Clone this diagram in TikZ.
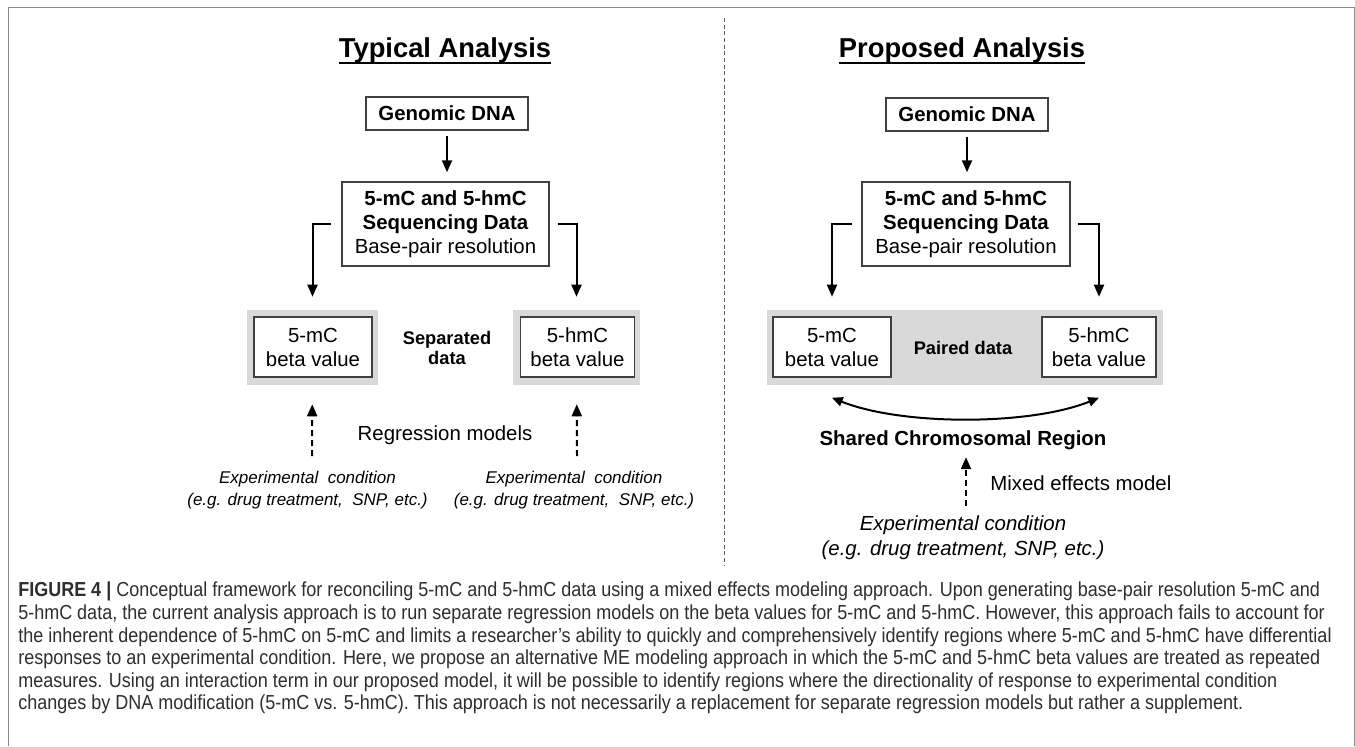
\documentclass[tikz,border=0pt]{standalone}
\usepackage{fontspec}
\setmainfont{Liberation Sans}
\newfontfamily\capfont[FakeStretch=0.888]{Liberation Sans}
\usetikzlibrary{arrows.meta,calc}
\newcommand\dgmain{\fontsize{15.3}{18}\selectfont}
\newcommand\dgsmall{\fontsize{13.7}{15}\selectfont\bfseries}
\newcommand\dgital{\fontsize{12.75}{16.5}\selectfont\itshape}
\newcommand\dgitalbig{\fontsize{15.3}{18.75}\selectfont\itshape}
\newcommand\dgtitle{\fontsize{20.5}{24}\selectfont\bfseries}
\tikzset{
  box/.style={draw=black!75, line width=1.1pt, fill=white, inner sep=0pt, align=center, font=\dgmain},
  graybox/.style={fill=black!15, draw=none, inner sep=0pt},
  lbl/.style={inner sep=0pt, align=center},
  arr/.style={line width=1.5pt, -{Triangle[length=9pt,width=7.5pt]}},
  darr/.style={arr, dash pattern=on 4.5pt off 3pt},
  dblarr/.style={line width=1.5pt, {Triangle[length=8pt,width=7pt]}-{Triangle[length=8pt,width=7pt]}},
  ttl/.style={inner sep=0pt, font=\dgtitle, anchor=base}
}
\begin{document}
\begin{tikzpicture}[x=0.75pt,y=-0.75pt]
\useasboundingbox (0,0) rectangle (1355,746);
\fill[white] (0,0) rectangle (1355,746);
% frame
\draw[black!45, line width=0.75pt] (8,746) -- (8,7) -- (1354,7) -- (1354,746);
% divider
\draw[black!65, line width=0.75pt, dash pattern=on 3pt off 2pt] (724,18) -- (724,565);

% ---------- left panel ----------
\node[ttl] (t1) at (445,57) {Typical Analysis};
\draw[line width=1.5pt] ([yshift=-4.2pt]t1.base west) -- ([yshift=-4.2pt]t1.base east);

\node[box, minimum width=121.5pt, minimum height=24.75pt, font=\dgmain\bfseries] (g1) at (447,113.5) {Genomic DNA};
\node[box, minimum width=155.25pt, minimum height=63pt] (s1) at (445.5,224)
  {\textbf{5-mC and 5-hmC}\\\textbf{Sequencing Data}\\Base-pair resolution};
\draw[arr, shorten <=3.75pt, shorten >=6.75pt] (g1.south) -- (g1.south |- s1.north);

\node[graybox, minimum width=98.25pt, minimum height=56.25pt] (gl) at (312.5,347.5) {};
\node[box, minimum width=88.5pt, minimum height=45pt] (bl) at (313,347) {5-mC\\beta value};
\node[graybox, minimum width=95.25pt, minimum height=56.25pt] (gr) at (576.5,347.5) {};
\node[box, minimum width=85.5pt, minimum height=45pt] (br) at (577.5,347) {5-hmC\\beta value};

\draw[arr, shorten >=9.75pt] ([xshift=-7.5pt]s1.west) -| (gl.north);
\draw[arr, shorten >=9.75pt] ([xshift=6pt]s1.east) -| (gr.north);

\node[lbl, font=\dgsmall] (sep) at (447,348) {Separated\\data};

\node[lbl, font=\dgmain] (reg) at (445,435) {Regression models};

\node[lbl, font=\dgital] (e1) at (307.5,490) {Experimental\ \ condition\\(e.g. drug treatment,\ \ SNP, etc.)};
\node[lbl, font=\dgital] (e2) at (574,490) {Experimental\ \ condition\\(e.g. drug treatment,\ \ SNP, etc.)};
\coordinate (d1) at (312,456);
\coordinate (d2) at (577,456);
\draw[darr, shorten >=14.25pt] (d1) -- (gl);
\draw[darr, shorten >=14.25pt] (d2) -- (gr);

% ---------- right panel ----------
\node[ttl] (t2) at (962,57) {Proposed Analysis};
\draw[line width=1.5pt] ([yshift=-4.2pt]t2.base west) -- ([yshift=-4.2pt]t2.base east);

\node[box, minimum width=121.5pt, minimum height=24.75pt, font=\dgmain\bfseries] (g2) at (967,114.5) {Genomic DNA};
\node[box, minimum width=156pt, minimum height=63pt] (s2) at (966,224)
  {\textbf{5-mC and 5-hmC}\\\textbf{Sequencing Data}\\Base-pair resolution};
\draw[arr, shorten <=3.75pt, shorten >=6.75pt] (g2.south) -- (g2.south |- s2.north);

\node[graybox, minimum width=297pt, minimum height=56.25pt] (G) at (965,347.5) {};
\node[box, minimum width=88.5pt, minimum height=45pt] (b3) at (832,347) {5-mC\\beta value};
\node[box, minimum width=85.5pt, minimum height=45pt] (b4) at (1099,347) {5-hmC\\beta value};
\node[lbl, font=\dgsmall] (pd) at (963,348) {Paired data};

\draw[arr, shorten >=9.75pt] ([xshift=-6.75pt]s2.west) -| (b3.north |- G.north);
\draw[arr, shorten >=9.75pt] ([xshift=5.25pt]s2.east) -| (b4.north |- G.north);

\draw[dblarr] ([yshift=-15pt]b3.south) .. controls ([xshift=52pt,yshift=-36pt]b3.south) and ([xshift=-52pt,yshift=-36pt]b4.south) .. ([yshift=-15pt]b4.south);

\node[lbl, font=\dgmain\bfseries] (sh) at (963,440) {Shared Chromosomal Region};
\coordinate (d3) at (966,506);
\draw[darr, shorten >=5.5pt] (d3) -- (d3 |- sh.south);
\node[lbl, font=\dgmain, anchor=west] (mx) at (990,483) {Mixed effects model};
\node[lbl, font=\dgitalbig] (e3) at (963,538) {Experimental condition\\(e.g. drug treatment, SNP, etc.)};

% ---------- caption ----------
\node[inner sep=0pt, anchor=north west, align=left, text=black!82,
      font=\capfont\fontsize{15.2}{16.9}\selectfont] (cap) at (18,582)
{\textbf{FIGURE 4 |} Conceptual framework for reconciling 5-mC and 5-hmC data using a mixed effects modeling approach. Upon generating base-pair resolution 5-mC and\\
5-hmC data, the current analysis approach is to run separate regression models on the beta values for 5-mC and 5-hmC. However, this approach fails to account for\\
the inherent dependence of 5-hmC on 5-mC and limits a researcher’s ability to quickly and comprehensively identify regions where 5-mC and 5-hmC have differential\\
responses to an experimental condition. Here, we propose an alternative ME modeling approach in which the 5-mC and 5-hmC beta values are treated as repeated\\
measures. Using an interaction term in our proposed model, it will be possible to identify regions where the directionality of response to experimental condition\\
changes by DNA modification (5-mC vs. 5-hmC). This approach is not necessarily a replacement for separate regression models but rather a supplement.};
\end{tikzpicture}
\end{document}
